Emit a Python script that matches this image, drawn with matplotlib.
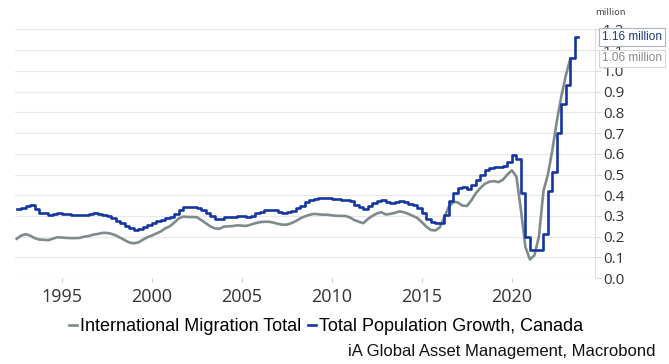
import numpy as np
import matplotlib
matplotlib.use("Agg")
import matplotlib.pyplot as plt

# quarterly data, millions
start_year = 1992.5
pop_growth = [0.335, 0.34, 0.35, 0.352, 0.335, 0.315, 0.312, 0.303, 0.308, 0.316,
              0.31, 0.307, 0.305, 0.303, 0.303, 0.306, 0.307, 0.313, 0.31, 0.305,
              0.298, 0.29, 0.278, 0.265, 0.252, 0.24, 0.233, 0.235, 0.245, 0.258,
              0.265, 0.275, 0.28, 0.288, 0.295, 0.31, 0.33, 0.342, 0.345, 0.345,
              0.34, 0.33, 0.315, 0.298, 0.285, 0.287, 0.295, 0.296, 0.296, 0.3,
              0.3, 0.295, 0.3, 0.313, 0.32, 0.328, 0.33, 0.328, 0.32, 0.315,
              0.317, 0.325, 0.338, 0.35, 0.365, 0.375, 0.383, 0.387, 0.385, 0.387,
              0.383, 0.38, 0.378, 0.376, 0.372, 0.355, 0.345, 0.335, 0.35, 0.362,
              0.372, 0.375, 0.366, 0.364, 0.368, 0.372, 0.368, 0.36, 0.352, 0.34,
              0.315, 0.285, 0.27, 0.268, 0.268, 0.305, 0.37, 0.41, 0.435, 0.44,
              0.428, 0.45, 0.475, 0.5, 0.52, 0.533, 0.538, 0.535, 0.54, 0.562,
              0.593, 0.575, 0.41, 0.2, 0.135, 0.135, 0.138, 0.215, 0.42, 0.51,
              0.70, 0.84, 0.93, 1.06, 1.163, 1.163]
migration = [0.19, 0.205, 0.212, 0.205, 0.193, 0.186, 0.185, 0.183, 0.19, 0.197,
             0.196, 0.194, 0.193, 0.193, 0.194, 0.2, 0.203, 0.21, 0.213, 0.218,
             0.218, 0.214, 0.206, 0.195, 0.183, 0.172, 0.168, 0.172, 0.185, 0.197,
             0.205, 0.215, 0.225, 0.24, 0.25, 0.268, 0.288, 0.297, 0.295, 0.295,
             0.294, 0.28, 0.265, 0.25, 0.24, 0.238, 0.248, 0.25, 0.251, 0.255,
             0.253, 0.252, 0.258, 0.265, 0.27, 0.272, 0.272, 0.268, 0.262, 0.258,
             0.258, 0.265, 0.275, 0.288, 0.298, 0.305, 0.31, 0.308, 0.306, 0.306,
             0.303, 0.301, 0.3, 0.3, 0.293, 0.28, 0.272, 0.265, 0.285, 0.3,
             0.312, 0.318, 0.307, 0.31, 0.315, 0.322, 0.318, 0.31, 0.3, 0.29,
             0.27, 0.248, 0.232, 0.23, 0.245, 0.295, 0.345, 0.368, 0.365, 0.35,
             0.348, 0.375, 0.41, 0.435, 0.455, 0.465, 0.468, 0.463, 0.475, 0.5,
             0.52, 0.49, 0.33, 0.15, 0.09, 0.11, 0.2, 0.42, 0.5, 0.62,
             0.76, 0.88, 0.98, 1.06]
year_ticks = [1995, 2000, 2005, 2010, 2015, 2020]
y_ticks = np.arange(0, 1.21, 0.1)

blue = "#1536a0"
grey = "#7f8a8c"

x_pop = start_year + 0.25 * np.arange(len(pop_growth))
x_pop[-1] = x_pop[-2] + 0.17  # last step is only part of a quarter wide
x_mig = start_year + 0.25 * np.arange(len(migration))

fig = plt.figure(figsize=(6.69, 3.64), dpi=100)
ax = fig.add_axes([0.022, 0.236, 0.867, 0.683])

ax.plot(x_mig, migration, color=grey, lw=1.9, label="International Migration Total")
ax.plot(x_pop, pop_growth, color=blue, lw=1.9, drawstyle="steps-post",
        label="Total Population Growth, Canada")

ax.set_xlim(1992.39, 2024.6)
ax.set_ylim(0, 1.2)
ax.yaxis.tick_right()
ax.set_yticks(y_ticks)
ax.set_yticklabels([f"{v:.1f}" for v in y_ticks], fontsize=11, color="#333333",
                   family="Open Sans")
ax.set_xticks(year_ticks)
ax.set_xticklabels([str(y) for y in year_ticks], fontsize=13, color="#333333",
                   family="Open Sans")
ax.tick_params(axis="y", length=4, color="#dddddd", pad=2)
ax.tick_params(axis="x", length=3, color="#cccccc", pad=4)
ax.grid(axis="y", color="#e8e8e8", lw=0.9)
ax.set_axisbelow(True)
for s in ["top", "left", "bottom"]:
    ax.spines[s].set_visible(False)
ax.spines["right"].set_color("#e0e0e0")

fig.text(0.912, 0.965, "million", fontsize=6.5, color="#444444", ha="center",
         va="center")

# end-of-series value labels (they sit over the 1.1 / 1.2 tick labels, as in the original)
ax.annotate("1.16 million", xy=(1.0, pop_growth[-1]), xycoords=("axes fraction", "data"),
            xytext=(5, 0), textcoords="offset points", va="center", ha="left",
            fontsize=8.5, color="#1f3a7a", family="Liberation Sans", zorder=5,
            bbox=dict(boxstyle="square,pad=0.25", fc="white", ec="#a9b4cc", lw=0.8))
ax.annotate("1.06 million", xy=(1.0, migration[-1]), xycoords=("axes fraction", "data"),
            xytext=(5, 0), textcoords="offset points", va="center", ha="left",
            fontsize=8.5, color="#8a8a8a", family="Liberation Sans", zorder=5,
            bbox=dict(boxstyle="square,pad=0.25", fc="white", ec="#d6d6d6", lw=0.8))

handles, labels = ax.get_legend_handles_labels()
fig.legend(handles, labels, loc="center", bbox_to_anchor=(0.487, 0.102), ncol=2,
           frameon=False, handlelength=0.45, handletextpad=0.15, columnspacing=0.4,
           prop={"family": "Liberation Sans", "size": 13})
fig.text(0.98, 0.033, "iA Global Asset Management, Macrobond", ha="right", va="center",
         fontsize=12, family="Liberation Sans", color="#111111")

fig.savefig("out.png", dpi=100)
